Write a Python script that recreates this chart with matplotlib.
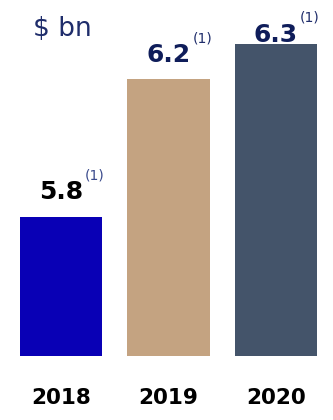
import matplotlib
matplotlib.use("Agg")
import matplotlib.pyplot as plt

years = ["2018", "2019", "2020"]
values = [5.8, 6.2, 6.3]
value_labels = ["5.8", "6.2", "6.3"]
footnote = "(1)"
unit_label = "$ bn"

bar_colors = ["#0900B5", "#C4A381", "#44546A"]
label_colors = ["#000000", "#0F1D5A", "#0F1D5A"]
sup_colors = ["#3A4A8C", "#1F2D6B", "#1F2D6B"]
label_offsets_pt = [13, 12, 2]

fig = plt.figure(figsize=(3.33, 4.2), dpi=100)
ax = fig.add_axes([0, 64.3 / 420, 1, 355.7 / 420])
x = list(range(len(years)))
ax.bar(x, values, width=0.763, color=bar_colors, bottom=0)
ax.set_xlim(-0.567, 2.530)
ax.set_ylim(5.4, 5.4 + 355.7 / 346)

for i, (v, lab) in enumerate(zip(values, value_labels)):
    t = ax.annotate(lab, xy=(i, v), xytext=(0, label_offsets_pt[i]),
                    textcoords="offset points", ha="center", va="baseline",
                    fontsize=18, fontweight="heavy", color=label_colors[i])
    ax.annotate(footnote, xy=(1, 1), xycoords=t, xytext=(1.5, 8.5),
                textcoords="offset points", ha="left", va="top",
                fontsize=10, color=sup_colors[i])

ax.set_xticks(x)
ax.set_xticklabels(years, fontsize=15.5, fontweight="heavy", color="black")
ax.tick_params(axis="x", length=0, pad=23.5)
ax.set_yticks([])
for s in ax.spines.values():
    s.set_visible(False)

fig.text(33 / 333, 1 - 35.7 / 420, unit_label, fontsize=19, color="#1F2D6B",
         ha="left", va="baseline")

fig.savefig("out.png", dpi=100)
